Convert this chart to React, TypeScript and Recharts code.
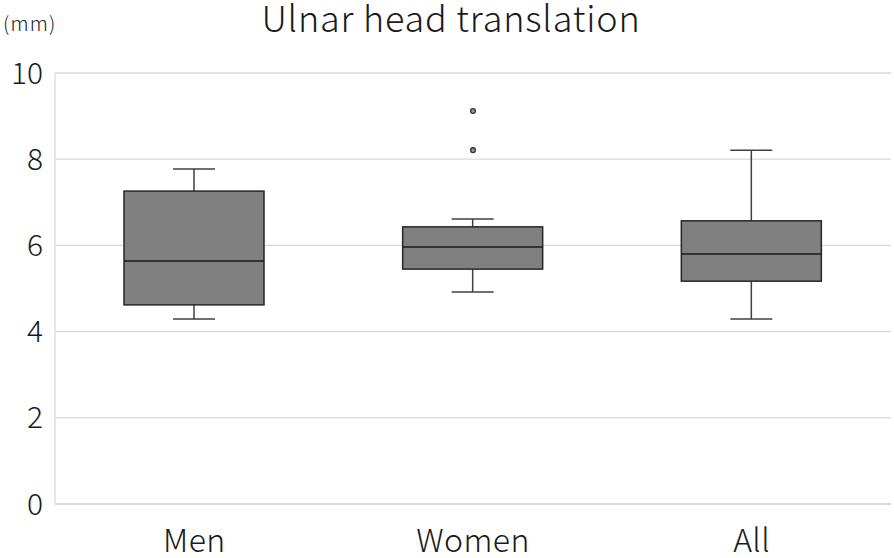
import { ComposedChart, Bar, Scatter, XAxis, YAxis, CartesianGrid } from 'recharts'

// box plot stats (mm)
const groups = ['Men', 'Women', 'All']
const whiskerLow = [4.29, 4.92, 4.29]
const q1 = [4.62, 5.45, 5.17]
const median = [5.64, 5.96, 5.8]
const q3 = [7.26, 6.43, 6.57]
const whiskerHigh = [7.77, 6.61, 8.21]
const yTicks = [0, 2, 4, 6, 8, 10]

const outlierGroups = ['Women', 'Women']
const outlierValues = [9.12, 8.21]

const data = groups.map((name, i) => ({
    name,
    range: [whiskerLow[i], whiskerHigh[i]],
    low: whiskerLow[i],
    q1: q1[i],
    median: median[i],
    q3: q3[i],
    high: whiskerHigh[i]
}))

const outliers = outlierGroups.map((name, i) => ({ name, value: outlierValues[i] }))

const FONT = '"Noto Sans CJK JP", "Noto Sans", sans-serif'

// draws the whole box from the whisker range bar the library positions
const BoxShape = (props: any) => {
    const { x, y, width, height, payload } = props
    if (height == null || !payload) return null
    const top = Math.min(y, y + height)
    const span = Math.abs(height)
    const toY = (v: number) => top + ((payload.high - v) / (payload.high - payload.low)) * span
    const cx = x + width / 2
    const cap = width * 0.3
    const yQ1 = toY(payload.q1)
    const yQ3 = toY(payload.q3)
    const yMed = toY(payload.median)
    return (
        <g>
            <line x1={cx} x2={cx} y1={top} y2={yQ3} stroke="#404040" strokeWidth={1.5} />
            <line x1={cx} x2={cx} y1={yQ1} y2={top + span} stroke="#404040" strokeWidth={1.5} />
            <line x1={cx - cap / 2} x2={cx + cap / 2} y1={top} y2={top} stroke="#404040" strokeWidth={1.5} />
            <line x1={cx - cap / 2} x2={cx + cap / 2} y1={top + span} y2={top + span} stroke="#404040" strokeWidth={1.5} />
            <rect x={x} y={yQ3} width={width} height={yQ1 - yQ3} fill="#808080" stroke="#262626" strokeWidth={1.5} />
            <line x1={x} x2={x + width} y1={yMed} y2={yMed} stroke="#1a1a1a" strokeWidth={1.5} />
        </g>
    )
}

const OutlierDot = (props: any) => {
    const { cx, cy } = props
    if (cx == null || cy == null) return null
    return <circle cx={cx} cy={cy} r={2.4} fill="#9a9a9a" stroke="#333" strokeWidth={1.3} />
}

export default function App() {
    return (
        <div style={{ position: 'absolute', left: 0, top: 0, width: 894, height: 558, background: '#fff', fontFamily: FONT }}>
            <svg width={894} height={50} style={{ position: 'absolute', left: 0, top: 0 }}>
                <text x={451} y={32} textAnchor="middle" fontSize={36} letterSpacing={0.8} fontWeight={300} fill="#1a1a1a" fontFamily={FONT}>
                    Ulnar head translation
                </text>
                <text x={3} y={31} fontSize={20} letterSpacing={1.2} fontWeight={300} fill="#1a1a1a" fontFamily={FONT}>
                    (mm)
                </text>
            </svg>
            <ComposedChart width={894} height={558} data={data} margin={{ top: 73, right: 3, bottom: 0, left: 0 }}>
                <CartesianGrid vertical={false} stroke="#d9d9d9" strokeWidth={1.3} />
                <XAxis
                    dataKey="name"
                    type="category"
                    allowDuplicatedCategory={false}
                    height={54}
                    axisLine={{ stroke: '#d9d9d9', strokeWidth: 1.3 }}
                    tickLine={false}
                    tick={{ fill: '#1a1a1a', fontSize: 32, fontFamily: FONT, fontWeight: 300, letterSpacing: 0.4 }}
                    dy={17}
                />
                <YAxis
                    domain={[0, 10]}
                    ticks={yTicks}
                    width={55}
                    axisLine={{ stroke: '#d9d9d9', strokeWidth: 1.3 }}
                    tickLine={false}
                    tick={{ fill: '#1a1a1a', fontSize: 30, fontFamily: FONT, fontWeight: 300 }}
                    dx={-4}
                />
                <Bar dataKey="range" barSize={140} shape={<BoxShape />} isAnimationActive={false} />
                <Scatter data={outliers} dataKey="value" shape={<OutlierDot />} isAnimationActive={false} />
            </ComposedChart>
        </div>
    )
}
